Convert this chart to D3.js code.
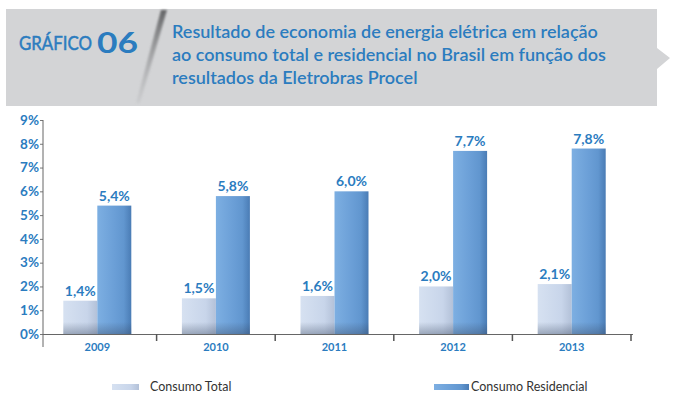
<!DOCTYPE html>
<html>
<head>
<meta charset="utf-8">
<script src="https://cdn.jsdelivr.net/npm/d3@7"></script>
<style>
  body { margin: 0; background: #fff; }
  svg { display: block; font-family: Lato, "Open Sans", sans-serif; }
</style>
</head>
<body>
<div class="chart"></div>
<script>
// data
var years = ["2009", "2010", "2011", "2012", "2013"];
var series = ["Consumo Total", "Consumo Residencial"];
var consumoTotal = [1.4, 1.5, 1.6, 2.0, 2.1];
var consumoResidencial = [5.4, 5.8, 6.0, 7.7, 7.8];
var yTicks = [0, 1, 2, 3, 4, 5, 6, 7, 8, 9];
var titleLines = [
    "Resultado de economia de energia elétrica em relação",
    "ao consumo total e residencial no Brasil em função dos",
    "resultados da Eletrobras Procel"
];

var W = 678, H = 410;
var blue = "#2b7cbf";

var svg = d3.select(".chart").append("svg")
    .attr("width", W)
    .attr("height", H);

var defs = svg.append("defs");

// gradients for the bars
function hGrad(id, stops) {
    var g = defs.append("linearGradient").attr("id", id)
        .attr("x1", "0").attr("x2", "1").attr("y1", "0").attr("y2", "0");
    stops.forEach(function(s) {
        g.append("stop").attr("offset", s[0]).attr("stop-color", s[1]);
    });
}
hGrad("gTotal", [[0, "#d6e1f1"], [0.7, "#c8d5ea"], [1, "#b3c1d8"]]);
hGrad("gRes", [[0, "#7dafe2"], [0.5, "#6b9fd7"], [0.78, "#6196cf"], [1, "#4a7cb5"]]);
var sh = defs.append("linearGradient").attr("id", "gShadow")
    .attr("x1", "0").attr("x2", "0").attr("y1", "0").attr("y2", "1");
sh.append("stop").attr("offset", 0).attr("stop-color", "#33415a").attr("stop-opacity", 0);
sh.append("stop").attr("offset", 1).attr("stop-color", "#33415a").attr("stop-opacity", 0.35);
var sl = defs.append("linearGradient").attr("id", "gSlash")
    .attr("x1", "0").attr("x2", "0").attr("y1", "0").attr("y2", "1");
sl.append("stop").attr("offset", 0).attr("stop-color", "#5f6062").attr("stop-opacity", 0.95);
sl.append("stop").attr("offset", 1).attr("stop-color", "#a0a1a3").attr("stop-opacity", 0.15);
defs.append("filter").attr("id", "blur")
    .append("feGaussianBlur").attr("stdDeviation", 1.2);

// header band
svg.append("path")
    .attr("d", "M6,9 H657 V48 L670,58 L657,69 V106 H6 Z")
    .attr("fill", "#d3d4d6");
svg.append("path")
    .attr("d", "M161,10 L167,10 L140,103 L136,103 Z")
    .attr("fill", "url(#gSlash)")
    .attr("filter", "url(#blur)");

svg.append("text")
    .attr("x", 19).attr("y", 50)
    .attr("fill", blue)
    .attr("stroke", blue).attr("stroke-width", 0.5)
    .style("font-size", "19px")
    .attr("textLength", 73).attr("lengthAdjust", "spacingAndGlyphs")
    .text("GRÁFICO");
svg.append("text")
    .attr("x", 97).attr("y", 53)
    .attr("fill", blue)
    .style("font-size", "29px")
    .style("font-weight", "bold")
    .attr("textLength", 41).attr("lengthAdjust", "spacingAndGlyphs")
    .text("06");

svg.selectAll(".title-line")
    .data(titleLines)
    .enter().append("text")
    .attr("class", "title-line")
    .attr("x", 172)
    .attr("y", function(d, i) { return 38 + i * 23; })
    .attr("fill", blue)
    .style("font-size", "18px")
    .style("font-weight", "600")
    .text(function(d) { return d; });

// scales
var margin = {left: 43, right: 633, top: 120, bottom: 334};
var x0 = d3.scaleBand().domain(years).range([38, 631]).padding(0);
var x1 = d3.scaleBand().domain(series)
    .range([x0.bandwidth() / 2 - 34, x0.bandwidth() / 2 + 34]);
var y = d3.scaleLinear().domain([0, 9]).range([margin.bottom, margin.top]);

var comma = d3.formatLocale({decimal: ",", thousands: ".", grouping: [3], currency: ["R$", ""]});
var fmt = comma.format(".1f");

// y axis
var yAxis = d3.axisLeft(y)
    .tickValues(yTicks)
    .tickSize(3)
    .tickFormat(function(d) { return d + "%"; });
var gy = svg.append("g")
    .attr("transform", "translate(" + margin.left + ",0)")
    .call(yAxis);
gy.select(".domain").remove();
gy.selectAll(".tick line").attr("stroke", "#777");
gy.selectAll(".tick text")
    .attr("fill", blue)
    .attr("x", -4)
    .style("font-size", "13.5px")
    .style("font-weight", "bold")
    .style("font-family", "Lato, sans-serif");
svg.append("line")
    .attr("x1", margin.left).attr("x2", margin.left)
    .attr("y1", margin.top).attr("y2", margin.bottom + 13)
    .attr("stroke", "#666").attr("stroke-width", 1);

// bars
var rows = years.map(function(yr, i) {
    return {year: yr, values: [
        {key: series[0], v: consumoTotal[i]},
        {key: series[1], v: consumoResidencial[i]}
    ]};
});

var groups = svg.selectAll(".group")
    .data(rows)
    .enter().append("g")
    .attr("class", "group")
    .attr("transform", function(d) { return "translate(" + x0(d.year) + ",0)"; });

groups.selectAll(".bar")
    .data(function(d) { return d.values; })
    .enter().append("rect")
    .attr("class", "bar")
    .attr("x", function(d) { return x1(d.key); })
    .attr("width", x1.bandwidth())
    .attr("y", function(d) { return y(d.v); })
    .attr("height", function(d) { return y(0) - y(d.v); })
    .attr("fill", function(d, i) { return i === 0 ? "url(#gTotal)" : "url(#gRes)"; });

// soft shadow at the foot of each bar
groups.selectAll(".foot")
    .data(function(d) { return d.values; })
    .enter().append("rect")
    .attr("class", "foot")
    .attr("x", function(d) { return x1(d.key); })
    .attr("width", x1.bandwidth())
    .attr("y", y(0) - 12)
    .attr("height", 12)
    .attr("fill", "url(#gShadow)");

groups.selectAll(".val")
    .data(function(d) { return d.values; })
    .enter().append("text")
    .attr("class", "val")
    .attr("x", function(d) { return x1(d.key) + x1.bandwidth() / 2; })
    .attr("y", function(d) { return y(d.v) - 5; })
    .attr("text-anchor", "middle")
    .attr("fill", blue)
    .style("font-size", "14px")
    .style("font-weight", "bold")
    .text(function(d) { return fmt(d.v) + "%"; });

// x axis
svg.append("line")
    .attr("x1", margin.left).attr("x2", margin.right)
    .attr("y1", y(0) + 0.5).attr("y2", y(0) + 0.5)
    .attr("stroke", "#666").attr("stroke-width", 1);

svg.selectAll(".xtick")
    .data(years)
    .enter().append("line")
    .attr("class", "xtick")
    .attr("x1", function(d) { return x0(d) + x0.bandwidth(); })
    .attr("x2", function(d) { return x0(d) + x0.bandwidth(); })
    .attr("y1", y(0)).attr("y2", y(0) + 7)
    .attr("stroke", "#555").attr("stroke-width", 1.5);

svg.selectAll(".year")
    .data(years)
    .enter().append("text")
    .attr("class", "year")
    .attr("x", function(d) { return x0(d) + x0.bandwidth() / 2; })
    .attr("y", y(0) + 17)
    .attr("text-anchor", "middle")
    .attr("fill", blue)
    .style("font-size", "11px")
    .style("font-weight", "bold")
    .text(function(d) { return d; });

// legend
var legend = [
    {name: series[0], fill: "url(#gTotal)", sx: 112, sw: 27, tx: 150},
    {name: series[1], fill: "url(#gRes)", sx: 434, sw: 35, tx: 471}
];
var lg = svg.selectAll(".legend")
    .data(legend)
    .enter().append("g")
    .attr("class", "legend");
lg.append("rect")
    .attr("x", function(d) { return d.sx; })
    .attr("y", 384)
    .attr("width", function(d) { return d.sw; })
    .attr("height", 6)
    .attr("fill", function(d) { return d.fill; });
lg.append("text")
    .attr("x", function(d) { return d.tx; })
    .attr("y", 391)
    .attr("fill", "#333")
    .style("font-size", "12.5px")
    .text(function(d) { return d.name; });
</script>
</body>
</html>
